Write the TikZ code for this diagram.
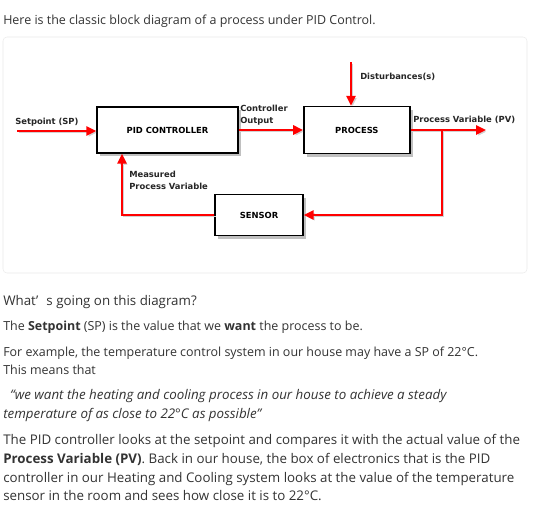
\documentclass[tikz,border=0pt]{standalone}
\usepackage{fontspec}
\setmainfont{Open Sans}
\newfontfamily\labelfont{DejaVu Sans}
\usetikzlibrary{positioning, arrows.meta, shadows}
\tikzset{
    block/.style={ % Boxes of the control loop
        draw=black,
        line width=1.1pt,
        fill=white,
        font=\labelfont\bfseries\fontsize{6.3}{9}\selectfont,
        drop shadow={shadow xshift=2.5pt, shadow yshift=-2.5pt, opacity=0.35, fill=black!70}
    },
    flow/.style={ % Red signal lines
        draw=red,
        line width=1.5pt,
        -{Triangle[length=7.5pt,width=7pt]},
        preaction={draw=black!18, transform canvas={shift={(1.3pt,-1.3pt)}}}
    },
    tag/.style={ % Labels next to the signal lines
        font=\labelfont\bfseries\fontsize{6.3}{9}\selectfont,
        text=black!85,
        inner sep=0pt,
        align=left
    },
    line/.style={ % One line of the page text
        anchor=base west,
        inner sep=0pt,
        text=black!80,
        font=\fontsize{10}{12}\selectfont
    },
    small line/.style={line, font=\fontsize{9.35}{12}\selectfont},
}

\begin{document}
\begin{tikzpicture}[x=0.75pt, y=-0.75pt]
    \path[use as bounding box, fill=white] (0,0) rectangle (560,504);

    \node[small line] (intro) at (3,24) {Here is the classic block diagram of a process under PID Control.};

    % the panel behind the diagram
    \draw[black!8, rounded corners=3pt] (3,37) rectangle (527,273);

    \node[block, minimum width=105.75pt, minimum height=34.5pt]  (pid) at (167.5,130) {PID CONTROLLER};
    \node[block, minimum width=79.5pt, minimum height=35.25pt,
          right of=pid, node distance=142pt]                      (prc) {PROCESS};
    \node[block, minimum width=66pt, minimum height=30.75pt]      (sns) at (259,215) {SENSOR};

    \coordinate (spIn)     at (17,131);
    \coordinate (dist)     at (351,62);
    \coordinate (pvOut)    at (486,130);
    \coordinate (pvTap)    at (442,130);
    \coordinate (fbCorner) at (122,215);

    \draw   (spIn)  edge[flow]  (spIn -| pid.west)
            (pid)   edge[flow]  (prc)
            (dist)  edge[flow]  (dist |- prc.north)
            (prc)   edge[flow]  (pvOut)
    ;
    \draw[flow] (pvTap) |- (sns);
    \draw[flow] (sns) -- (fbCorner) -- (fbCorner |- pid.south);

    \node[tag, anchor=base west]  (spLbl)   at (15,124)     {Setpoint (SP)};
    \node[tag, anchor=north west] (outLbl)  at (240,104.6)  {Controller\\Output};
    \node[tag, anchor=base west]  (distLbl) at (360,79)     {Disturbances(s)};
    \node[tag, anchor=base west]  (pvLbl)   at (413,122)    {Process Variable (PV)};
    \node[tag, anchor=north west] (measLbl) at (129,170.6)  {Measured\\Process Variable};

    \node[line]       (ask)    at (3,305) {What’\hspace{0.6em}s going on this diagram?};
    \node[small line] (sp1)    at (3,330) {The \textbf{Setpoint} (SP) is the value that we \textbf{want} the process to be.};
    \node[small line] (ex1)    at (3,356) {For example, the temperature control system in our house may have a SP of 22°C.};
    \node[small line] (ex2)    at (3,374) {This means that};
    \node[line]       (quote1) at (3,399) {\itshape\ \ “we want the heating and cooling process in our house to achieve a steady};
    \node[line]       (quote2) at (3,418) {\itshape temperature of as close to 22°C as possible”};
    \node[line]       (pv1)    at (3,444) {The PID controller looks at the setpoint and compares it with the actual value of the};
    \node[line]       (pv2)    at (3,463) {\textbf{Process Variable (PV)}. Back in our house, the box of electronics that is the PID};
    \node[line]       (pv3)    at (3,482) {controller in our Heating and Cooling system looks at the value of the temperature};
    \node[line]       (pv4)    at (3,500) {sensor in the room and sees how close it is to 22°C.};
\end{tikzpicture}
\end{document}
